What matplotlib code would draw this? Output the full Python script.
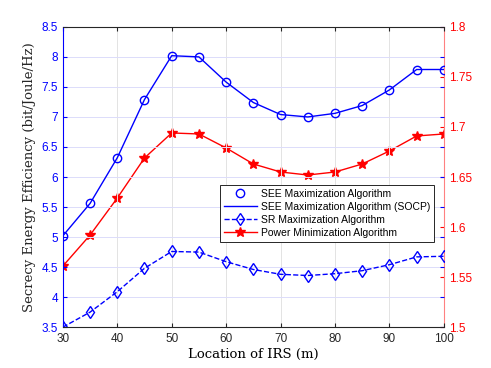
import matplotlib
matplotlib.use("Agg")
import matplotlib.pyplot as plt

# data
location = [30, 35, 40, 45, 50, 55, 60, 65, 70, 75, 80, 85, 90, 95, 100]
see_max = [5.02, 5.56, 6.32, 7.29, 8.02, 8.00, 7.58, 7.24, 7.04, 7.00, 7.06, 7.19, 7.45, 7.79, 7.79]
sr_max = [3.50, 3.75, 4.09, 4.48, 4.76, 4.75, 4.59, 4.46, 4.38, 4.36, 4.39, 4.44, 4.54, 4.67, 4.68]
power_min = [1.561, 1.592, 1.629, 1.669, 1.694, 1.693, 1.679, 1.663, 1.655, 1.652, 1.655, 1.663, 1.676, 1.691, 1.693]

left_ticks = [3.5, 4, 4.5, 5, 5.5, 6, 6.5, 7, 7.5, 8, 8.5]
right_ticks = [1.5, 1.55, 1.6, 1.65, 1.7, 1.75, 1.8]
x_ticks = [30, 40, 50, 60, 70, 80, 90, 100]

plt.rcParams['font.family'] = ['Liberation Sans', 'DejaVu Sans']
blue = '#0000FF'
red = '#FF0000'
gray = '#262626'

fig = plt.figure(figsize=(4.91, 3.68), dpi=100)
ax = fig.add_axes([0.128, 0.111, 0.776, 0.816])
ax2 = ax.twinx()

ax.set_zorder(ax2.get_zorder() + 1)
ax.patch.set_visible(False)

l1, = ax.plot(location, see_max, 'o', color=blue, mfc='none', ms=6, mew=1.0)
l2, = ax.plot(location, see_max, '-', color=blue, lw=1.0)
l3, = ax.plot(location, sr_max, '--', color=blue, marker='d', mfc='none', ms=6, mew=1.0, lw=1.0)
l4, = ax2.plot(location, power_min, '-', color=red, marker='*', ms=7.5, lw=1.0)

ax.set_xlim(30, 100)
ax.set_ylim(3.5, 8.5)
ax2.set_ylim(1.5, 1.8)
ax.set_xticks(x_ticks)
ax.set_yticks(left_ticks)
ax.set_yticklabels([f'{t:g}' for t in left_ticks])
ax2.set_yticks(right_ticks)
ax2.set_yticklabels([f'{t:g}' for t in right_ticks])

# grid: horizontal from left axis (bluish), vertical light gray
ax.yaxis.grid(True, color='#DCDCFA', lw=0.7)
ax.xaxis.grid(True, color='#E3E3E3', lw=0.7)
ax.set_axisbelow(True)

ax.tick_params(axis='x', direction='in', top=True, colors=gray, labelsize=8.5, length=3, pad=4)
ax.tick_params(axis='y', direction='in', right=True, colors=blue, labelsize=8.5, length=3)
ax2.tick_params(axis='y', direction='in', colors=red, labelsize=8.5, length=3)

ax.spines['left'].set_color(blue)
ax.spines['right'].set_visible(False)
ax.spines['top'].set_color(gray)
ax.spines['bottom'].set_color(gray)
ax2.spines['right'].set_color('#FF8080')
ax2.spines['left'].set_visible(False)
ax2.spines['top'].set_visible(False)
ax2.spines['bottom'].set_visible(False)

ax.set_xlabel('Location of IRS (m)', family='serif', fontsize=9.5, labelpad=2)
ax.set_ylabel('Secrecy Energy Efficiency (bit/Joule/Hz)', family='serif', fontsize=9.5, color=gray, labelpad=4)

leg = ax.legend([l1, l2, l3, l4],
                ['SEE Maximization Algorithm', 'SEE Maximization Algorithm (SOCP)',
                 'SR Maximization Algorithm', 'Power Minimization Algorithm'],
                loc='upper left', bbox_to_anchor=(0.448, 0.497), bbox_transform=fig.transFigure,
                fontsize=7.5, frameon=True, fancybox=False, edgecolor=gray, framealpha=1,
                handlelength=3.2, handletextpad=0.4, borderpad=0.35, labelspacing=0.3,
                borderaxespad=0)
leg.get_frame().set_linewidth(0.7)

fig.savefig('out.png', dpi=100)
